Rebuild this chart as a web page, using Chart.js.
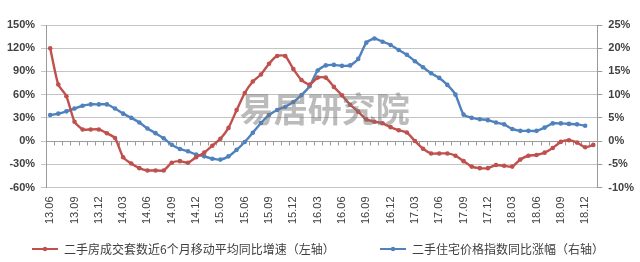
<!DOCTYPE html>
<html>
<head>
<meta charset="utf-8">
<script src="https://cdn.jsdelivr.net/npm/chart.js@4.4.1/dist/chart.umd.min.js"></script>
<style>
  html, body { margin: 0; padding: 0; background: #fff; }
  #wrap { width: 640px; height: 262px; }
</style>
</head>
<body>
<div id="wrap"><canvas id="chart"></canvas></div>
<script>
var months = ['13.06','13.07','13.08','13.09','13.10','13.11','13.12','14.01','14.02','14.03','14.04','14.05',
  '14.06','14.07','14.08','14.09','14.10','14.11','14.12','15.01','15.02','15.03','15.04','15.05',
  '15.06','15.07','15.08','15.09','15.10','15.11','15.12','16.01','16.02','16.03','16.04','16.05',
  '16.06','16.07','16.08','16.09','16.10','16.11','16.12','17.01','17.02','17.03','17.04','17.05',
  '17.06','17.07','17.08','17.09','17.10','17.11','17.12','18.01','18.02','18.03','18.04','18.05',
  '18.06','18.07','18.08','18.09','18.10','18.11','18.12','19.01'];

// 二手房成交套数近6个月移动平均同比增速 (%)
var tradeGrowth = [120, 73, 58, 25, 15, 15, 15, 10, 4, -21, -29, -35,
  -38, -38, -38, -28, -26, -28, -21, -15, -6, 3, 17, 40,
  62, 77, 86, 100, 110, 110, 93, 79, 73, 82, 82, 70,
  59, 47, 38, 28, 25, 23, 18, 14, 11, 0, -10, -16,
  -16, -16, -19, -26, -33, -35, -35, -31, -32, -33, -24, -19,
  -18, -15, -9, -1, 1, -2, -8, -5];

// 二手住宅价格指数同比涨幅 (%)
var priceGrowth = [5.6, 5.9, 6.4, 7.0, 7.6, 7.9, 7.9, 7.9, 7.0, 5.9, 5.0, 4.0,
  2.7, 1.7, 0.6, -0.8, -1.7, -2.2, -2.9, -3.3, -3.8, -4.0, -3.3, -1.9,
  -0.2, 1.8, 3.9, 5.6, 6.7, 7.4, 8.4, 9.9, 11.8, 15.2, 16.3, 16.4,
  16.2, 16.3, 17.7, 21.2, 22.1, 21.4, 20.7, 19.6, 18.6, 17.2, 15.9, 14.6,
  13.6, 12.1, 10.0, 5.7, 5.0, 4.7, 4.5, 4.0, 3.6, 2.6, 2.2, 2.2,
  2.2, 2.9, 3.8, 3.8, 3.7, 3.6, 3.3, null];

var leftTicks = [-60, -30, 0, 30, 60, 90, 120, 150];
var rightTicks = [-10, -5, 0, 5, 10, 15, 20, 25];

var red = '#c0504d';
var blue = '#4f81bd';

// axis at 0% with small ticks, watermark, legend
var extras = {
  id: 'extras',
  beforeDatasetsDraw: function(chart) {
    var x = chart.scales.x, y = chart.scales.y, ctx = chart.ctx, area = chart.chartArea;
    var y0 = Math.round(y.getPixelForValue(0)) + 0.5;
    var step = x.getPixelForValue(1) - x.getPixelForValue(0);
    ctx.save();
    ctx.strokeStyle = '#9a9a9a';
    ctx.lineWidth = 1;
    ctx.beginPath();
    ctx.moveTo(area.left, y0);
    ctx.lineTo(area.right, y0);
    for (var i = 0; i <= months.length; i++) {
      var px = Math.round(x.getPixelForValue(i) - step / 2) + 0.5;
      ctx.moveTo(px, y0);
      ctx.lineTo(px, y0 + 4);
    }
    ctx.stroke();
    ctx.restore();
  },
  afterDatasetsDraw: function(chart) {
    var ctx = chart.ctx, area = chart.chartArea;
    ctx.save();
    ctx.font = 'bold 34px "Noto Sans CJK SC"';
    ctx.fillStyle = 'rgba(120,120,120,0.5)';
    ctx.textAlign = 'center';
    ctx.textBaseline = 'middle';
    ctx.fillText('易居研究院', (area.left + area.right) / 2 + 3, (area.top + area.bottom) / 2 + 3);
    ctx.restore();
  },
  afterDraw: function(chart) {
    var ctx = chart.ctx;
    var ly = chart.height - 13;
    var starts = [32, 380];
    ctx.save();
    ctx.font = '12px "Noto Sans CJK SC"';
    ctx.textBaseline = 'middle';
    chart.data.datasets.forEach(function(ds, i) {
      var x0 = starts[i];
      ctx.strokeStyle = ds.borderColor;
      ctx.lineWidth = 2;
      ctx.beginPath();
      ctx.moveTo(x0, ly);
      ctx.lineTo(x0 + 26, ly);
      ctx.stroke();
      ctx.fillStyle = ds.borderColor;
      ctx.beginPath();
      ctx.arc(x0 + 13, ly, 2.2, 0, Math.PI * 2);
      ctx.fill();
      ctx.fillStyle = '#404040';
      ctx.fillText(ds.label, x0 + 32, ly);
    });
    ctx.restore();
  }
};

new Chart(document.getElementById('chart'), {
  type: 'line',
  data: {
    labels: months,
    datasets: [{
      label: '二手房成交套数近6个月移动平均同比增速（左轴）',
      data: tradeGrowth,
      yAxisID: 'y',
      borderColor: red,
      backgroundColor: red,
      borderWidth: 2.4,
      pointRadius: 2.3,
      pointBorderWidth: 0,
      tension: 0.2
    }, {
      label: '二手住宅价格指数同比涨幅（右轴）',
      data: priceGrowth,
      yAxisID: 'y1',
      borderColor: blue,
      backgroundColor: blue,
      borderWidth: 2.4,
      pointRadius: 2.3,
      pointBorderWidth: 0,
      tension: 0.2
    }]
  },
  options: {
    responsive: true,
    maintainAspectRatio: false,
    animation: false,
    layout: { padding: { left: 1, right: 0, top: 25, bottom: 29 } },
    plugins: {
      tooltip: { enabled: false },
      legend: { display: false }
    },
    scales: {
      x: {
        offset: true,
        grid: { display: false, drawTicks: false },
        border: { display: false },
        ticks: {
          autoSkip: false,
          maxRotation: 90,
          minRotation: 90,
          padding: 9,
          color: '#404040',
          font: { family: '"Liberation Sans"', size: 11 },
          callback: function(v, i) { return i % 3 === 0 ? months[i] : ''; }
        }
      },
      y: {
        position: 'left',
        min: -60,
        max: 150,
        afterBuildTicks: function(axis) { axis.ticks = leftTicks.map(function(v) { return { value: v }; }); },
        grid: { color: '#c4c4c4', tickLength: 5 },
        border: { color: '#9a9a9a' },
        ticks: {
          autoSkip: false,
          color: '#404040',
          padding: 6,
          font: { family: '"Liberation Sans"', size: 11, weight: 'bold' },
          callback: function(v) { return v + '%'; }
        }
      },
      y1: {
        position: 'right',
        min: -10,
        max: 25,
        afterBuildTicks: function(axis) { axis.ticks = rightTicks.map(function(v) { return { value: v }; }); },
        grid: { drawOnChartArea: false, color: '#9a9a9a', tickLength: 5 },
        border: { color: '#9a9a9a' },
        ticks: {
          autoSkip: false,
          color: '#404040',
          padding: 6,
          font: { family: '"Liberation Sans"', size: 11, weight: 'bold' },
          callback: function(v) { return v + '%'; }
        }
      }
    }
  },
  plugins: [extras]
});
</script>
</body>
</html>
